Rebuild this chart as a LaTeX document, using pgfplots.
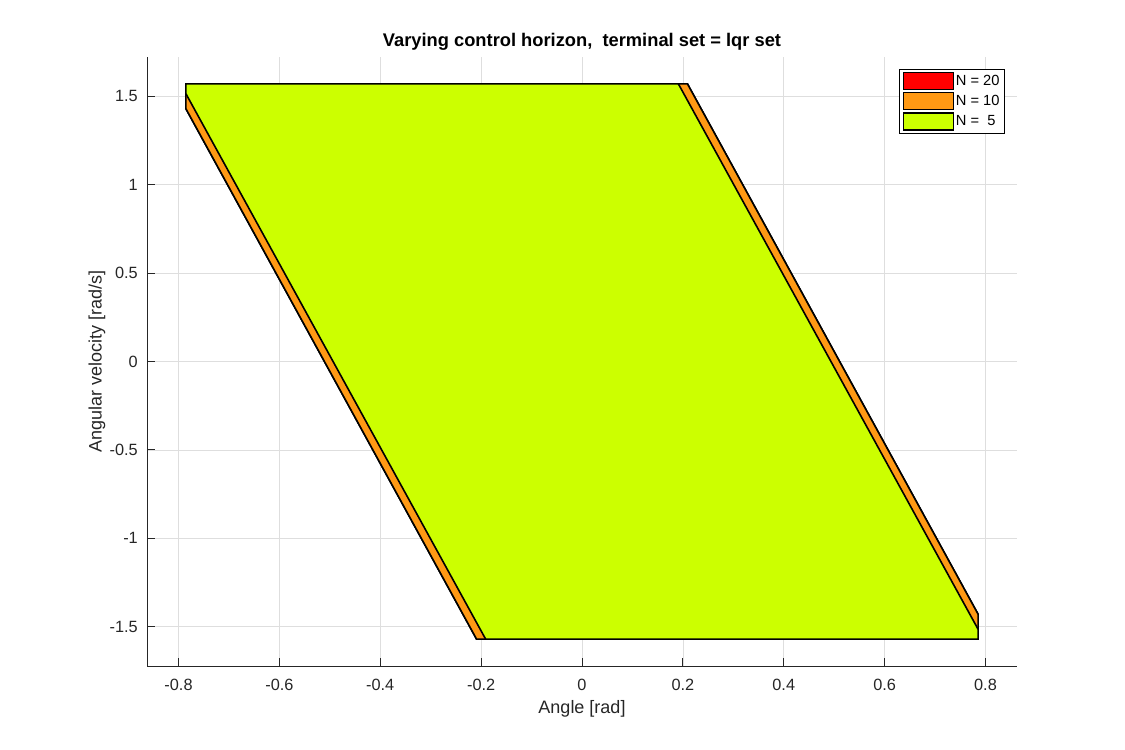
\documentclass[border=0pt]{standalone}
\usepackage{pgfplots}
\pgfplotsset{compat=1.18}
\usepackage{fontspec}
\setmainfont{Liberation Sans}
\definecolor{axgray}{rgb}{0.15,0.15,0.15}
\definecolor{gridgray}{rgb}{0.87,0.87,0.87}
\definecolor{nred}{rgb}{1,0,0}
\definecolor{norange}{rgb}{1,0.6,0.08}
\definecolor{ngreen}{rgb}{0.8,1,0}
\begin{document}
\begin{tikzpicture}
\path (0,0) rectangle (1125bp,750bp);
\begin{axis}[
  at={(147bp,84bp)}, anchor=south west,
  scale only axis, width=870bp, height=609bp,
  xmin=-0.8625, xmax=0.8625, ymin=-1.7225, ymax=1.7225,
  axis x line*=bottom, axis y line*=left,
  axis line style={-, color=axgray, line width=0.8bp},
  xtick={-0.8,-0.6,-0.4,-0.2,0,0.2,0.4,0.6,0.8},
  xticklabels={-0.8,-0.6,-0.4,-0.2,0,0.2,0.4,0.6,0.8},
  ytick={-1.5,-1,-0.5,0,0.5,1,1.5},
  yticklabels={-1.5,-1,-0.5,0,0.5,1,1.5},
  tick align=inside, major tick length=8bp,
  tick style={color=axgray, line width=0.8bp},
  grid=major, major grid style={color=gridgray, line width=0.7bp},
  tick label style={font=\fontsize{16.3bp}{19bp}\selectfont, text=axgray},
  xticklabel style={inner sep=0pt, anchor=north, yshift=-13bp},
  yticklabel style={inner sep=0pt, anchor=east, xshift=-9bp},
  every axis x label/.style={at={(axis description cs:0.5,-0.0706)}, anchor=center, font=\fontsize{18bp}{21bp}\selectfont, text=axgray},
  every axis y label/.style={at={(axis description cs:-0.0575,0.5)}, rotate=90, anchor=center, font=\fontsize{18bp}{21bp}\selectfont, text=axgray},
  every axis title/.style={at={(axis description cs:0.5,1.0246)}, anchor=center, font=\bfseries\fontsize{18.3bp}{21bp}\selectfont, text=black},
  title={Varying control horizon,\ \ terminal set = lqr set},
  xlabel={Angle [rad]},
  ylabel={Angular velocity [rad/s]},
  legend style={at={(axis description cs:0.9862,0.980)}, anchor=north east,
    draw=black, line width=0.8bp, font=\fontsize{14.7bp}{17bp}\selectfont,
    row sep=2bp, inner xsep=3bp, inner ysep=2.5bp,
    nodes={inner sep=2bp}},
  legend cell align=left,
  legend image code/.code={\draw[#1, line width=1.2bp] (0bp,-8.5bp) rectangle (50bp,8.5bp);},
]
\addplot[fill=nred, draw=black, line width=1.6bp] coordinates {
 (-0.7854,1.5708) (0.209,1.5708) (0.7854,-1.43) (0.7854,-1.5708) (-0.209,-1.5708) (-0.7854,1.43)} -- cycle;
\addlegendentry{N = 20}
\addplot[fill=norange, draw=black, line width=1.6bp] coordinates {
 (-0.7854,1.5708) (0.209,1.5708) (0.7854,-1.43) (0.7854,-1.5708) (-0.209,-1.5708) (-0.7854,1.43)} -- cycle;
\addlegendentry{N = 10}
\addplot[fill=ngreen, draw=black, line width=1.6bp] coordinates {
 (-0.7854,1.5708) (0.191,1.5708) (0.7854,-1.515) (0.7854,-1.5708) (-0.191,-1.5708) (-0.7854,1.515)} -- cycle;
\addlegendentry{N =\ \ 5}
\end{axis}
\end{tikzpicture}
\end{document}
